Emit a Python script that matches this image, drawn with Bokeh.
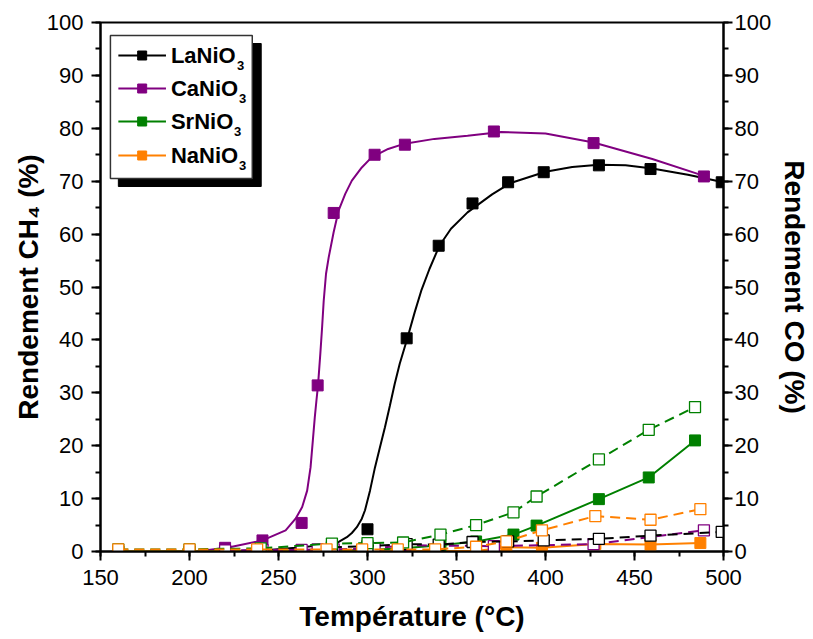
from bokeh.plotting import figure
from bokeh.models import Range1d, LinearAxis, SingleIntervalTicker
from bokeh.embed import file_html
from bokeh.resources import INLINE
from bokeh.core.properties import value

# ---------------- data ----------------
# LaNiO3
la_t = [300, 322, 340, 359, 379, 399, 430, 459, 499]
la_ch4 = [4.2, 40.3, 57.8, 65.8, 69.8, 71.7, 73.0, 72.3, 69.8]
la_fit_t = [222, 241, 259.6, 278.2, 283.8, 288.4, 291.2, 294.0, 296.8, 298.6, 301.4, 304.2, 307.0,
            309.8, 312.6, 315.3, 318.1, 322.4, 326.5, 330.2, 334.8, 340.4, 346.9, 356.2, 370,
            380, 400, 415, 430, 445, 460, 480, 500]
la_fit = [0.0, 0.2, 0.7, 1.3, 1.8, 2.7, 3.5, 4.6, 6.2, 7.8, 11.5, 15.9, 19.7,
          23.5, 27.6, 31.7, 35.5, 40.3, 45.2, 49.3, 53.4, 57.8, 61.0, 64.1, 67.5,
          69.6, 71.8, 72.7, 73.1, 73.0, 72.4, 71.2, 69.8]
la_co_t = [280, 300, 322, 340, 359, 379, 399, 430, 459, 499]
la_co = [0.8, 1.0, 1.4, 1.3, 1.8, 1.9, 2.1, 2.4, 3.0, 3.7]

# CaNiO3
ca_t = [220, 241, 263, 272, 281, 304, 321, 371, 427, 489]
ca_ch4 = [0.7, 2.1, 5.4, 31.4, 64.0, 75.0, 76.9, 79.4, 77.2, 70.9]
ca_fit_t = [204, 222.5, 241.0, 254.0, 259.6, 263.3, 266.1, 268.0, 269.3, 270.4, 271.3, 272.2,
            273.5, 274.5, 275.4, 276.7, 278.2, 281.0, 283.8, 287.5, 291.2, 296.8, 302.3,
            311.6, 320.9, 337.6, 356.2, 375, 400, 427, 460, 489]
ca_fit = [0.0, 0.8, 2.1, 4.0, 6.2, 8.4, 11.5, 15.9, 21.0, 25.4, 28.5, 31.4,
          37.4, 42.4, 47.4, 52.5, 55.6, 60.4, 64.5, 67.6, 70.1, 72.6, 74.5,
          76.1, 77.1, 78.0, 78.6, 79.3, 79.0, 77.3, 74.2, 71.0]
ca_co = [0.2, 0.3, 0.3, 0.4, 0.4, 0.6, 1.2, 1.0, 1.4, 4.0]

# SrNiO3
sr_t = [160, 200, 240, 280, 300, 320, 341, 361, 382, 395, 430, 458, 484]
sr_ch4 = [0.0, 0.0, 0.1, 0.2, 0.3, 0.6, 1.2, 1.9, 3.2, 4.9, 9.9, 14.0, 21.0]
sr_co = [0.4, 0.4, 0.6, 1.5, 1.6, 1.7, 3.2, 5.0, 7.4, 10.4, 17.4, 23.0, 27.3]

# NaNiO3
na_t = [160, 200, 238, 277, 297, 317, 338, 361, 378, 398, 428, 459, 487]
na_ch4 = [0.0, 0.0, 0.0, 0.0, 0.0, 0.0, 0.1, 0.1, 0.8, 0.7, 1.4, 1.3, 1.6]
na_co = [0.4, 0.4, 0.4, 0.4, 0.4, 0.4, 0.4, 0.9, 1.9, 4.0, 6.7, 6.0, 8.0]

names = ["LaNiO", "CaNiO", "SrNiO", "NaNiO"]
colors = ["#000000", "#800080", "#008000", "#FF8000"]

# ---------------- figure ----------------
FONT = "Liberation Sans"
FR_L, FR_R, FR_T, FR_B = 100, 728, 22, 551   # wanted frame edges in page pixels
W, H = 813, 639
p = figure(width=W, height=H, output_backend="svg", toolbar_location=None,
           x_range=Range1d(150, 500), y_range=Range1d(0, 100),
           min_border_left=FR_L, min_border_right=W - FR_R,
           min_border_top=FR_T, min_border_bottom=H - FR_B)
p.extra_y_ranges = {"co": Range1d(0, 100)}
p.grid.visible = False
p.outline_line_color = "black"
p.outline_line_width = 2
p.background_fill_color = "white"
p.border_fill_color = "white"

p.xaxis.ticker = SingleIntervalTicker(interval=50, num_minor_ticks=2)
p.yaxis.ticker = SingleIntervalTicker(interval=10, num_minor_ticks=2)
p.xaxis.axis_label = "Température (°C)"
p.yaxis.axis_label = "Rendement CH₄ (%)"

right = LinearAxis(y_range_name="co", axis_label="Rendement CO (%)",
                   ticker=SingleIntervalTicker(interval=10, num_minor_ticks=2))
p.add_layout(right, "right")

for ax in [p.xaxis[0], p.yaxis[0], right]:
    ax.axis_line_width = 2
    ax.major_tick_line_width = 2
    ax.minor_tick_line_width = 2
    ax.major_tick_out = 9
    ax.major_tick_in = 0
    ax.minor_tick_out = 5
    ax.minor_tick_in = 0
    ax.major_label_text_font = FONT
    ax.major_label_text_font_size = "22px"
    ax.major_label_text_color = "black"
    ax.axis_label_text_font = FONT
    ax.axis_label_text_font_style = "bold"
    ax.axis_label_text_font_size = "28px"
    ax.axis_label_text_color = "black"
p.xaxis[0].major_label_standoff = 9
p.xaxis[0].axis_label_standoff = 13
p.yaxis[0].major_label_standoff = 8
p.yaxis[0].axis_label_standoff = 0
right.major_label_standoff = 2
right.axis_label_standoff = 5

MS = 11
# filled (CH4) series
p.line(la_fit_t, la_fit, line_color=colors[0], line_width=2)
p.line(ca_fit_t, ca_fit, line_color=colors[1], line_width=2)
p.line(sr_t, sr_ch4, line_color=colors[2], line_width=2)
p.line(na_t, na_ch4, line_color=colors[3], line_width=2)
p.scatter(sr_t, sr_ch4, marker="square", size=MS, fill_color=colors[2], line_color=colors[2])
p.scatter(na_t, na_ch4, marker="square", size=MS, fill_color=colors[3], line_color=colors[3])
p.scatter(la_t, la_ch4, marker="square", size=MS, fill_color=colors[0], line_color=colors[0])
p.scatter(ca_t, ca_ch4, marker="square", size=MS, fill_color=colors[1], line_color=colors[1])

# open (CO) series, dashed
for tt, vv, c in [(ca_t, ca_co, colors[1]), (la_co_t, la_co, colors[0]),
                  (sr_t, sr_co, colors[2]), (na_t, na_co, colors[3])]:
    p.line(tt, vv, line_color=c, line_width=2, line_dash="10 6", y_range_name="co")
    p.scatter(tt, vv, marker="square", size=MS, fill_color="white", line_color=c,
              line_width=1.3, y_range_name="co")


# ---------------- legend (drawn by hand, positions in page pixels) ----------------
def dx(px):
    return 150 + (px - FR_L) * 350.0 / (FR_R - FR_L)


def dy(py):
    return (FR_B - py) * 100.0 / (FR_B - FR_T)


p.quad(left=[dx(118)], right=[dx(262)], top=[dy(43)], bottom=[dy(186)],
       fill_color="black", line_color="black")
p.quad(left=[dx(110)], right=[dx(253)], top=[dy(35)], bottom=[dy(178)],
       fill_color="white", line_color="#333333", line_width=1.5)
row_y = [55, 88, 121, 155]
sub_off = [65, 67, 62, 67]
for i in range(4):
    yy = dy(row_y[i])
    p.line([dx(118), dx(166)], [yy, yy], line_color=colors[i], line_width=2)
    p.scatter([dx(142)], [yy], marker="square", size=9, fill_color=colors[i], line_color=colors[i])
    p.text([dx(171)], [yy], text=[names[i]], text_font=value(FONT), text_font_style="bold",
           text_font_size="22px", text_baseline="middle", text_align="left", text_color="black")
    p.text([dx(171)], [yy], text=["3"], x_offset=sub_off[i] + 1, y_offset=10,
           text_font=value(FONT), text_font_style="bold",
           text_font_size="13px", text_baseline="middle", text_align="left", text_color="black")

open("out.html", "w").write(file_html(p, INLINE))
